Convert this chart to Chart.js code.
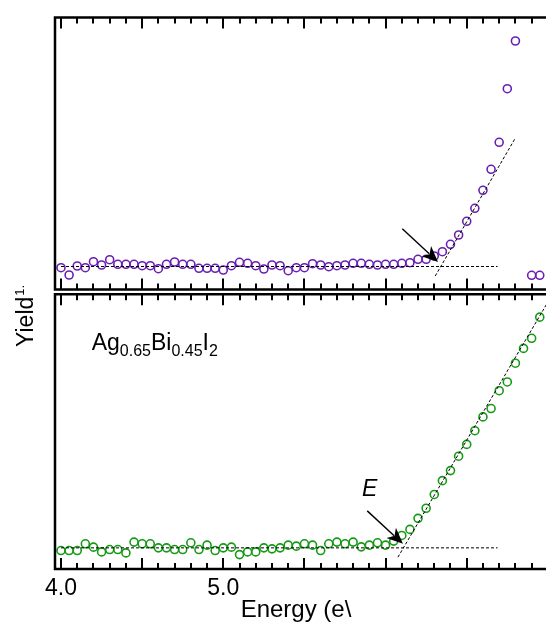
<!DOCTYPE html>
<html>
<head>
<meta charset="utf-8">
<script src="https://cdn.jsdelivr.net/npm/chart.js@4.4.0/dist/chart.umd.min.js"></script>
<style>
  html, body { margin: 0; padding: 0; background: #fff; overflow: hidden; }
  #wrap { position: relative; width: 546px; height: 623px; overflow: hidden; }
  canvas { position: absolute; left: 0; }
  #topChart { top: 0; }
  #botChart { top: 280px; }
</style>
</head>
<body>
<div id="wrap">
  <canvas id="topChart" width="546" height="300"></canvas>
  <canvas id="botChart" width="546" height="345"></canvas>
</div>
<script>
// photon energy (eV)
const energy = [4.00, 4.05, 4.10, 4.15, 4.20, 4.25, 4.30, 4.35, 4.40, 4.45,
  4.50, 4.55, 4.60, 4.65, 4.70, 4.75, 4.80, 4.85, 4.90, 4.95,
  5.00, 5.05, 5.10, 5.15, 5.20, 5.25, 5.30, 5.35, 5.40, 5.45,
  5.50, 5.55, 5.60, 5.65, 5.70, 5.75, 5.80, 5.85, 5.90, 5.95,
  6.00, 6.05, 6.10, 6.15, 6.20, 6.25, 6.30, 6.35, 6.40, 6.45,
  6.50, 6.55, 6.60, 6.65, 6.70, 6.75, 6.80, 6.85, 6.90, 6.95, 7.00];

// yield (arb. units), upper panel
const topYield = [0.218, 0.145, 0.235, 0.218, 0.278, 0.245, 0.298, 0.252, 0.252, 0.252,
  0.238, 0.238, 0.208, 0.252, 0.275, 0.252, 0.252, 0.212, 0.212, 0.212,
  0.195, 0.238, 0.272, 0.262, 0.238, 0.205, 0.245, 0.238, 0.188, 0.218,
  0.218, 0.258, 0.245, 0.228, 0.238, 0.245, 0.262, 0.262, 0.252, 0.245,
  0.252, 0.252, 0.262, 0.268, 0.302, 0.302, 0.335, 0.378, 0.452, 0.545,
  0.682, 0.812, 0.992, 1.202, 1.472, 2.008, 2.485, null, 0.142, 0.142, 0.145];

// yield (arb. units), lower panel (Ag0.65Bi0.45I2)
const botYield = [0.183, 0.183, 0.183, 0.250, 0.217, 0.170, 0.193, 0.193, 0.160, 0.267,
  0.250, 0.250, 0.210, 0.210, 0.193, 0.193, 0.260, 0.193, 0.237, 0.183,
  0.210, 0.217, 0.143, 0.170, 0.170, 0.210, 0.200, 0.210, 0.237, 0.227,
  0.250, 0.237, 0.183, 0.250, 0.267, 0.250, 0.267, 0.220, 0.237, 0.260,
  0.237, 0.277, 0.333, 0.393, 0.503, 0.603, 0.740, 0.877, 0.977, 1.120,
  1.237, 1.373, 1.510, 1.593, 1.770, 1.857, 2.043, 2.190, 2.290, 2.500, null];

// linear fits (baseline and onset)
const topBaseX = [4.00, 6.69], topBaseY = [0.23, 0.23];
const topFitX = [6.306, 6.795], topFitY = [0.135, 1.502];
const botBaseX = [4.00, 6.69], botBaseY = [0.21, 0.21];
const botFitX = [6.076, 7.00], botFitY = [0.117, 2.65];

// arrows: [x0, y0, x1, y1] in data units
const topArrow = [6.103, 0.608, 6.323, 0.275];
const botArrow = [5.887, 0.577, 6.107, 0.25];

const tickLabels = [4.0, 5.0];
// frame ticks every 0.1 eV, long ones every 0.5 eV
const minorTicks = [4.0, 4.1, 4.2, 4.3, 4.4, 4.5, 4.6, 4.7, 4.8, 4.9,
  5.0, 5.1, 5.2, 5.3, 5.4, 5.5, 5.6, 5.7, 5.8, 5.9,
  6.0, 6.1, 6.2, 6.3, 6.4, 6.5, 6.6, 6.7, 6.8, 6.9];
const majorTicks = [4.0, 4.5, 5.0, 5.5, 6.0, 6.5];
const xMin = 3.963, xMax = 6.933;

const FONT = 'Liberation Sans, Arial, sans-serif';
const purple = '#6a1fb2';
const green = '#169a16';

function pts(xs, ys) { return xs.map((x, i) => ({ x: x, y: ys[i] })); }

function scatterSet(ys, color) {
  return {
    type: 'scatter', data: pts(energy, ys), showLine: false,
    pointStyle: 'circle', pointRadius: 4, pointBorderWidth: 1.6,
    borderColor: color, pointBorderColor: color, backgroundColor: 'rgba(0,0,0,0)',
    clip: { left: 8, top: 8, right: 20, bottom: 8 }
  };
}
function fitSet(xs, ys) {
  return {
    type: 'line', data: pts(xs, ys), borderColor: '#000', borderWidth: 1,
    borderDash: [3, 2], pointRadius: 0, fill: false,
    clip: { left: 8, top: 8, right: 20, bottom: 8 }
  };
}

// frame with inward ticks, open on the right (cropped); one path, one fill
function drawFrame(chart) {
  const ctx = chart.ctx;
  const a = chart.chartArea;
  const sx = chart.scales.x;
  ctx.save();
  ctx.beginPath();
  ctx.rect(a.left - 1.25, a.top - 1.25, chart.width, 2.5);
  ctx.rect(a.left - 1.25, a.bottom - 1.25, chart.width, 2.5);
  ctx.rect(a.left - 1.25, a.top - 1.25, 2.5, a.bottom - a.top + 2.5);
  minorTicks.forEach(v => {
    const px = Math.round(sx.getPixelForValue(v));
    const len = majorTicks.some(m => Math.abs(m - v) < 1e-6) ? 11 : 6;
    ctx.rect(px - 1, a.top, 2, len);
    ctx.rect(px - 1, a.bottom - len, 2, len);
  });
  ctx.fillStyle = '#000';
  ctx.fill('nonzero');
  ctx.restore();
}
const frame = {
  id: 'panelFrame',
  afterDraw(chart) { drawFrame(chart); }
};

function drawArrow(chart, arr) {
  const { ctx } = chart;
  const x = chart.scales.x, y = chart.scales.y;
  const x0 = x.getPixelForValue(arr[0]), y0 = y.getPixelForValue(arr[1]);
  const x1 = x.getPixelForValue(arr[2]), y1 = y.getPixelForValue(arr[3]);
  const ang = Math.atan2(y1 - y0, x1 - x0);
  const hl = 16, hw = 7;
  const bx = x1 - hl * Math.cos(ang), by = y1 - hl * Math.sin(ang);
  ctx.save();
  ctx.strokeStyle = '#000'; ctx.fillStyle = '#000'; ctx.lineWidth = 1.4;
  ctx.beginPath(); ctx.moveTo(x0, y0); ctx.lineTo(bx + 4 * Math.cos(ang), by + 4 * Math.sin(ang)); ctx.stroke();
  ctx.beginPath();
  ctx.moveTo(x1, y1);
  ctx.lineTo(bx + hw * Math.sin(ang), by - hw * Math.cos(ang));
  ctx.lineTo(x1 - hl * 0.72 * Math.cos(ang), y1 - hl * 0.72 * Math.sin(ang));
  ctx.lineTo(bx - hw * Math.sin(ang), by + hw * Math.cos(ang));
  ctx.closePath(); ctx.fill();
  ctx.restore();
}

const topNotes = {
  id: 'topNotes',
  afterDatasetsDraw(chart) { drawArrow(chart, topArrow); }
};

const botNotes = {
  id: 'botNotes',
  afterDatasetsDraw(chart) {
    const { ctx } = chart;
    const x = chart.scales.x, y = chart.scales.y;
    drawArrow(chart, botArrow);
    ctx.save();
    ctx.fillStyle = '#000';
    ctx.textBaseline = 'alphabetic';
    ctx.textAlign = 'left';
    // formula label
    let px = x.getPixelForValue(4.189), py = y.getPixelForValue(2.17);
    const parts = [['Ag', 0], ['0.65', 1], ['Bi', 0], ['0.45', 1], ['I', 0], ['2', 1]];
    parts.forEach(([t, sub]) => {
      ctx.font = sub ? '16px ' + FONT : '23px ' + FONT;
      ctx.fillText(t, px, py + (sub ? 6 : 0));
      px += ctx.measureText(t).width;
    });
    // E label
    ctx.font = 'italic 23px ' + FONT;
    ctx.fillText('E', x.getPixelForValue(5.855), y.getPixelForValue(0.727));
    // y axis title spanning both panels
    ctx.translate(33, 347 - 280);
    ctx.rotate(-Math.PI / 2);
    ctx.font = '23px ' + FONT;
    ctx.fillText('Yield', 0, 0);
    const w = ctx.measureText('Yield').width;
    ctx.font = '13px ' + FONT;
    ctx.fillText('1.', w + 1, -9);
    ctx.restore();
  }
};

const common = {
  responsive: false, animation: false, devicePixelRatio: 1,
  plugins: { legend: { display: false }, tooltip: { enabled: false } }
};

new Chart(document.getElementById('topChart'), {
  type: 'scatter',
  data: { datasets: [fitSet(topBaseX, topBaseY), fitSet(topFitX, topFitY), scatterSet(topYield, purple)] },
  options: Object.assign({}, common, {
    layout: { padding: { left: 55, right: 9, top: 17.5, bottom: 10.5 } },
    scales: {
      x: { type: 'linear', min: xMin, max: xMax, display: false },
      y: { type: 'linear', min: 0, max: 2.72, display: false }
    }
  }),
  plugins: [frame, topNotes]
});

new Chart(document.getElementById('botChart'), {
  type: 'scatter',
  data: { datasets: [fitSet(botBaseX, botBaseY), fitSet(botFitX, botFitY), scatterSet(botYield, green)] },
  options: Object.assign({}, common, {
    layout: { padding: { left: 55, right: 9, top: 14.3, bottom: 0 } },
    scales: {
      x: {
        type: 'linear', min: xMin, max: xMax, position: 'bottom',
        border: { display: false },
        grid: { display: false, drawTicks: false },
        afterBuildTicks: s => { s.ticks = tickLabels.map(v => ({ value: v })); },
        afterFit: s => { s.height = 56; },
        ticks: {
          color: '#000', padding: 6, maxRotation: 0, autoSkip: false,
          font: { family: FONT, size: 23 },
          callback: v => Number(v).toFixed(1)
        },
        title: {
          display: true, text: 'Energy (e\\', color: '#000',
          font: { family: FONT, size: 24 }, padding: { top: 0, bottom: 0 }
        }
      },
      y: { type: 'linear', min: 0, max: 2.727, display: false }
    }
  }),
  plugins: [frame, botNotes]
});
</script>
</body>
</html>
